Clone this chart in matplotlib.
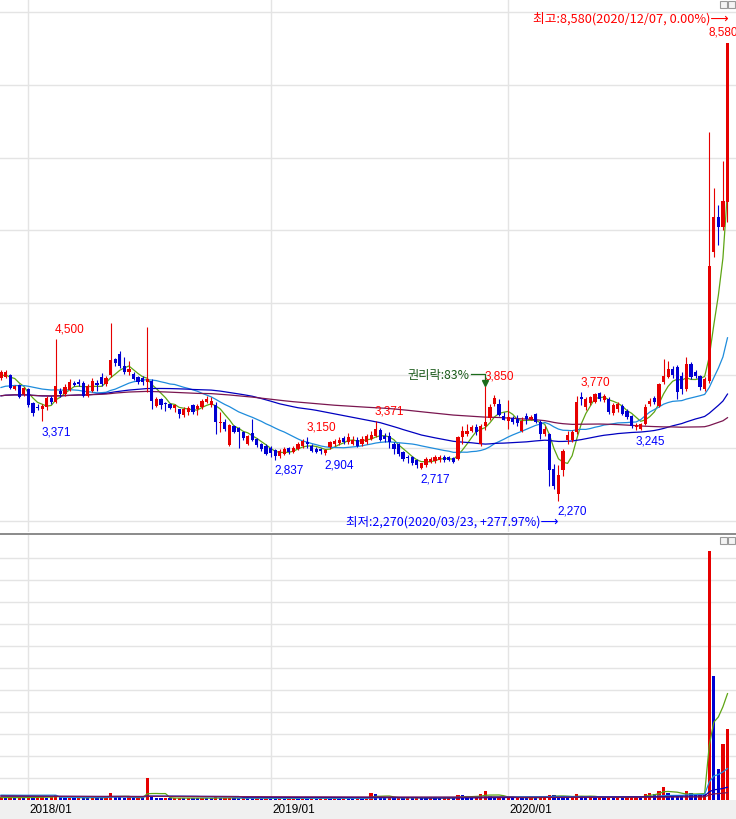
"""Weekly candle chart with moving averages and volume panel."""

import numpy as np
import pandas as pd
import matplotlib
matplotlib.use('Agg')

import matplotlib.pyplot as plt
import matplotlib.transforms as mtransforms
from matplotlib.patches import Rectangle
from matplotlib.lines import Line2D


FIRST_WEEK = '2017-11-20'

# weekly candles
opens = [
    3960, 3975, 4005, 3815, 3870, 3745, 3810, 3620, 3570, 3540,
    3560, 3695, 3640, 3790, 3745, 3805, 3895, 3905, 3895, 3715,
    3790, 3895, 3975, 3880, 4000, 4225, 4295, 4135, 4050, 4020,
    3975, 3960, 3910, 3925, 3585, 3675, 3610, 3605, 3545, 3537,
    3450, 3500, 3590, 3530, 3560, 3640, 3590, 3590, 3340, 3360,
    3045, 3305, 3270, 3215, 3060, 3200, 3125, 3060, 3030, 3000,
    2975, 2895, 2920, 2995, 2950, 2990, 3030, 3080, 3030, 2990,
    2985, 2930, 3015, 3055, 3065, 3135, 3085, 3060, 3115, 3055,
    3080, 3125, 3165, 3250, 3160, 3170, 3055, 3055, 2940, 2880,
    2870, 2840, 2720, 2760, 2805, 2825, 2830, 2875, 2870, 2860,
    2850, 3150, 3190, 3240, 3285, 3055, 3300, 3410, 3605, 3605,
    3445, 3375, 3410, 3400, 3240, 3445, 3400, 3470, 3355, 3195,
    3190, 2710, 2365, 2690, 3115, 3115, 3215, 3700, 3565, 3620,
    3640, 3760, 3665, 3675, 3480, 3535, 3580, 3510, 3445, 3285,
    3265, 3330, 3605, 3690, 3580, 3905, 3975, 4090, 4115, 3990,
    3810, 4160, 4045, 3990, 3810, 3920, 5700, 6180, 6045, 6390,
]
highs = [
    4080, 4070, 4020, 3870, 3880, 3840, 3830, 3640, 3600, 3600,
    3720, 3710, 4500, 3830, 3880, 3950, 3920, 3950, 3920, 3880,
    3970, 3930, 4030, 3990, 4720, 4240, 4330, 4250, 4200, 4050,
    3990, 3990, 4666, 3950, 3700, 3690, 3640, 3620, 3610, 3540,
    3560, 3580, 3610, 3600, 3680, 3720, 3700, 3640, 3500, 3400,
    3330, 3320, 3290, 3240, 3180, 3400, 3140, 3070, 3050, 3030,
    2990, 2990, 3010, 3020, 3030, 3080, 3120, 3150, 3060, 3020,
    3000, 2990, 3100, 3130, 3150, 3170, 3200, 3160, 3150, 3160,
    3190, 3230, 3371, 3280, 3210, 3220, 3080, 3070, 2960, 2900,
    2890, 2850, 2800, 2870, 2880, 2900, 2910, 2900, 2890, 2880,
    3170, 3300, 3330, 3310, 3330, 3330, 3850, 3600, 3730, 3680,
    3500, 3660, 3440, 3450, 3420, 3480, 3460, 3480, 3380, 3300,
    3200, 2780, 2760, 2980, 3230, 3250, 3710, 3770, 3700, 3720,
    3760, 3765, 3740, 3700, 3620, 3640, 3600, 3530, 3460, 3340,
    3350, 3600, 3690, 3720, 3900, 4220, 4200, 4130, 4140, 4050,
    4250, 4190, 4080, 4010, 3980, 7350, 6580, 6340, 6950, 8580,
]
lows = [
    3940, 3960, 3810, 3800, 3690, 3720, 3565, 3445, 3520, 3371,
    3520, 3600, 3620, 3700, 3720, 3790, 3850, 3860, 3700, 3700,
    3770, 3790, 3860, 3860, 3980, 4130, 4100, 4020, 4000, 3930,
    3880, 3870, 3770, 3537, 3560, 3540, 3510, 3530, 3500, 3410,
    3420, 3460, 3470, 3450, 3540, 3620, 3570, 3190, 3220, 3230,
    3030, 3200, 3000, 3110, 3040, 3090, 3010, 2960, 2900, 2880,
    2837, 2860, 2900, 2920, 2930, 2970, 3000, 3000, 2940, 2930,
    2920, 2904, 2990, 3030, 3040, 3060, 3060, 3040, 3010, 3030,
    3060, 3110, 3150, 3100, 3080, 3000, 2920, 2890, 2820, 2800,
    2770, 2730, 2717, 2740, 2790, 2800, 2810, 2810, 2820, 2790,
    2830, 3050, 3170, 3220, 3180, 3030, 3250, 3380, 3580, 3440,
    3380, 3260, 3330, 3300, 3220, 3330, 3380, 3340, 3120, 3170,
    2480, 2430, 2270, 2620, 3050, 3080, 3190, 3590, 3520, 3590,
    3620, 3650, 3640, 3470, 3450, 3500, 3450, 3400, 3280, 3245,
    3250, 3310, 3580, 3600, 3560, 3880, 3960, 3970, 3675, 3750,
    3780, 3950, 3960, 3800, 3780, 3900, 5630, 5800, 6000, 6110,
]
closes = [
    4050, 4050, 3825, 3850, 3700, 3820, 3590, 3480, 3550, 3575,
    3685, 3640, 3860, 3745, 3840, 3910, 3870, 3885, 3715, 3850,
    3925, 3870, 3880, 3960, 4210, 4165, 4135, 4045, 4090, 3950,
    3905, 3915, 3945, 3650, 3675, 3590, 3600, 3545, 3590, 3470,
    3530, 3545, 3490, 3575, 3650, 3675, 3650, 3355, 3355, 3265,
    3315, 3215, 3215, 3135, 3165, 3110, 3035, 2990, 2920, 2930,
    2895, 2960, 2985, 2940, 2995, 3055, 3090, 3050, 2960, 2950,
    2960, 2975, 3080, 3100, 3115, 3080, 3145, 3110, 3030, 3125,
    3160, 3180, 3260, 3115, 3125, 3080, 2985, 2915, 2850, 2860,
    2800, 2760, 2790, 2850, 2850, 2870, 2875, 2830, 2840, 2805,
    3150, 3240, 3240, 3285, 3215, 3307, 3360, 3565, 3690, 3455,
    3390, 3420, 3360, 3345, 3375, 3400, 3430, 3355, 3195, 3260,
    2690, 2480, 2630, 2960, 3180, 3215, 3635, 3670, 3675, 3700,
    3740, 3675, 3720, 3490, 3590, 3605, 3470, 3420, 3307, 3310,
    3330, 3565, 3650, 3630, 3880, 3995, 4090, 4000, 3770, 3810,
    4160, 3980, 3995, 3840, 3950, 5500, 6180, 6045, 6400, 8580,
]
# weekly volume, one unit per volume grid line
volumes = [
    0.12, 0.10, 0.13, 0.09, 0.12, 0.10, 0.14, 0.11, 0.13, 0.15,
    0.11, 0.14, 0.23, 0.12, 0.09, 0.11, 0.09, 0.12, 0.10, 0.09,
    0.13, 0.10, 0.09, 0.12, 0.33, 0.16, 0.13, 0.10, 0.12, 0.09,
    0.11, 0.09, 1.00, 0.18, 0.10, 0.08, 0.10, 0.07, 0.09, 0.10,
    0.08, 0.11, 0.08, 0.07, 0.10, 0.08, 0.07, 0.12, 0.08, 0.10,
    0.11, 0.08, 0.07, 0.10, 0.08, 0.07, 0.08, 0.07, 0.10, 0.08,
    0.07, 0.08, 0.06, 0.07, 0.09, 0.07, 0.10, 0.07, 0.08, 0.06,
    0.07, 0.09, 0.07, 0.09, 0.07, 0.10, 0.08, 0.07, 0.09, 0.07,
    0.10, 0.30, 0.26, 0.13, 0.10, 0.12, 0.09, 0.11, 0.09, 0.12,
    0.09, 0.11, 0.09, 0.08, 0.11, 0.09, 0.08, 0.09, 0.11, 0.09,
    0.23, 0.22, 0.13, 0.10, 0.15, 0.27, 0.42, 0.18, 0.12, 0.15,
    0.11, 0.13, 0.10, 0.12, 0.10, 0.09, 0.12, 0.10, 0.13, 0.17,
    0.23, 0.22, 0.16, 0.14, 0.12, 0.15, 0.27, 0.19, 0.12, 0.15,
    0.11, 0.14, 0.10, 0.13, 0.11, 0.14, 0.10, 0.12, 0.13, 0.20,
    0.14, 0.27, 0.32, 0.27, 0.42, 0.61, 0.32, 0.23, 0.20, 0.19,
    0.42, 0.32, 0.23, 0.24, 0.26, 11.30, 5.66, 1.42, 2.56, 3.24,
]
# weeks before the visible range, only feed the moving averages
prior_close = [
    3550, 3580, 3620, 3600, 3560, 3590, 3640, 3610, 3580, 3620,
    3650, 3600, 3570, 3610, 3640, 3620, 3600, 3630, 3650, 3620,
    3660, 3700, 3740, 3720, 3760, 3800, 3780, 3750, 3790, 3830,
    3810, 3780, 3800, 3840, 3820, 3790, 3960, 3990, 3940, 4010,
]
prior_volume = [
    0.15, 0.13, 0.17, 0.12, 0.14, 0.16, 0.13, 0.15, 0.12, 0.14,
    0.13, 0.16, 0.15, 0.12, 0.13, 0.14, 0.15, 0.13, 0.12, 0.14,
    0.13, 0.15, 0.12, 0.14, 0.13, 0.15, 0.14, 0.12, 0.13, 0.15,
    0.14, 0.13, 0.12, 2.00, 0.15, 0.13, 0.12, 0.11, 0.12, 0.10,
]

high_marks = [12, 67, 82, 106, 127, 159]
low_marks = [9, 60, 71, 92, 122, 139]
rights_week = 106
rights_text = '권리락:83%'

MA_WINDOWS = [5, 20, 60, 120]
MA_COLORS = ['#5ea514', '#1e8cdc', '#0000c0', '#7a1650']
UP = '#e60000'
DOWN = '#0000d2'
GRID = '#e4e4e4'
KR = ['Noto Sans CJK KR', 'DejaVu Sans']
NUM = 'Liberation Sans'

W, H = 736, 820
PRICE_LIM = (1843, 9183)
VOL_TOP = 12.05

dates = pd.date_range(FIRST_WEEK, periods=len(closes), freq='7D')
x = np.arange(len(closes))
o = np.array(opens, float)
h = np.array(highs, float)
lo = np.array(lows, float)
c = np.array(closes, float)
v = np.array(volumes, float)

n_prior = len(prior_close)
close_all = pd.Series(prior_close + closes, dtype=float)
vol_all = pd.Series(prior_volume + volumes, dtype=float)

fig = plt.figure(figsize=(W / 100, H / 100), dpi=100)
ax = fig.add_axes([0, 1 - 533 / H, 1, 533 / H])
axv = fig.add_axes([0, 19 / H, 1, 265 / H])

xlim = (-1 / 4.569, len(x) - 1 + (W - 727.5) / 4.569)
px_per_idx = W / (xlim[1] - xlim[0])
price_per_px = (PRICE_LIM[1] - PRICE_LIM[0]) / 533

# month grid at the first week of each January
jan_idx = [int(np.argmax((dates.year == y) & (dates.month == 1)))
           for y in sorted(set(dates.year)) if ((dates.year == y) & (dates.month == 1)).any()]

for a in (ax, axv):
    a.set_xlim(*xlim)
    a.set_xticks(jan_idx)
    a.tick_params(length=0, labelleft=False, labelbottom=False)
    a.grid(True, color=GRID, linewidth=1.0)
    a.set_axisbelow(True)
    for s in a.spines.values():
        s.set_visible(False)

ax.set_ylim(*PRICE_LIM)
ax.set_yticks(range(2000, 9001, 1000))
axv.set_ylim(0, VOL_TOP)
axv.set_yticks(range(1, 12))

# moving averages
for win, col in zip(MA_WINDOWS, MA_COLORS):
    ma = close_all.rolling(win, min_periods=1).mean().values[n_prior:]
    ax.plot(x, ma, color=col, linewidth=0.9, zorder=2)
    vma = vol_all.rolling(win, min_periods=1).mean().values[n_prior:]
    axv.plot(x, vma, color=col, linewidth=0.9, zorder=3)

# candles
colors = np.where(c >= o, UP, DOWN)
ax.vlines(x, lo, h, colors=colors, linewidth=0.8, zorder=3)
body = np.maximum(np.abs(c - o), price_per_px)
ax.bar(x, body, bottom=np.minimum(o, c), width=0.7, color=colors,
       linewidth=0, zorder=4)

# volume bars, red when volume rises
prev_v = np.concatenate([[prior_volume[-1]], v[:-1]])
vcolors = np.where(v >= prev_v, UP, DOWN)
axv.bar(x, v, width=0.72, color=vcolors, linewidth=0, zorder=2)

# high / low labels
for i in high_marks:
    off = -1
    cx = 1 + i * 4.569
    if cx + 30 > W:
        off = W + 2 - 30 - cx
    ax.annotate(f'{int(h[i]):,}', xy=(i, h[i]), xytext=(off, 11),
                textcoords='offset pixels', ha='left', va='center',
                color='#ff0000', fontsize=8.5, family=NUM, zorder=6)
for i in low_marks:
    ax.annotate(f'{int(lo[i]):,}', xy=(i, lo[i]), xytext=(-1, -10),
                textcoords='offset pixels', ha='left', va='center',
                color='#0000ff', fontsize=8.5, family=NUM, zorder=6)

# overall high / low notes
ih = int(np.argmax(h))
il = int(np.argmin(lo))
pct_h = (c[-1] / h[ih] - 1) * 100
pct_l = (c[-1] / lo[il] - 1) * 100


def fmt_pct(p):
    if abs(p) < 0.005:
        return '0.00%'
    return f'{p:+.2f}%'


ax.annotate(f'최고:{int(h[ih]):,}({dates[ih]:%Y/%m/%d}, {fmt_pct(pct_h)})⟶',
            xy=(ih, h[ih]), xytext=(1, 25), textcoords='offset pixels',
            ha='right', va='center', color='#ff0000', fontsize=9.2,
            family=KR, zorder=6)
ax.annotate(f'최저:{int(lo[il]):,}({dates[il]:%Y/%m/%d}, {fmt_pct(pct_l)})⟶',
            xy=(il, lo[il]), xytext=(0, -20), textcoords='offset pixels',
            ha='right', va='center', color='#0000ff', fontsize=9.0,
            family=KR, zorder=6)

# ex-rights marker
ry = h[rights_week] + 12 * price_per_px
ax.plot([rights_week - 14 / px_per_idx, rights_week, rights_week],
        [ry, ry, h[rights_week] + 3 * price_per_px],
        color='#1a6b1a', linewidth=0.9, zorder=6)
ax.plot(rights_week, h[rights_week] + 3 * price_per_px, marker='v',
        markersize=4, color='#1a6b1a', zorder=6)
ax.annotate(rights_text, xy=(rights_week, ry), xytext=(-16, 0),
            textcoords='offset pixels', ha='right', va='center',
            color='#1a5a1a', fontsize=8.8, family=KR, zorder=6)

# bottom date strip
fig.add_artist(Rectangle((0, 0), 1, 19 / H, transform=fig.transFigure,
                         facecolor='#f0f0f0', edgecolor='none', zorder=0))
tr = mtransforms.blended_transform_factory(axv.transData, fig.transFigure)
for i in jan_idx:
    axv.text(i + 1.5 / px_per_idx, 1 - 810 / H, f'{dates[i]:%Y/%m}',
             transform=tr, ha='left', va='center', fontsize=8.5,
             family=NUM, color='#000000', clip_on=False)

# panel separator
fig.add_artist(Line2D([0, 1], [1 - 534.5 / H] * 2, transform=fig.transFigure,
                      color='#8a8a8a', linewidth=1.4))

# small window buttons at the top right of each panel
for top in (1, 537):
    for left in (720, 728):
        fig.add_artist(Rectangle((left / W, 1 - (top + 8) / H), 7 / W, 7 / H,
                                 transform=fig.transFigure, facecolor='#f4f4f4',
                                 edgecolor='#9a9a9a', linewidth=0.8))

fig.savefig('out.png', dpi=100)
plt.close(fig)
